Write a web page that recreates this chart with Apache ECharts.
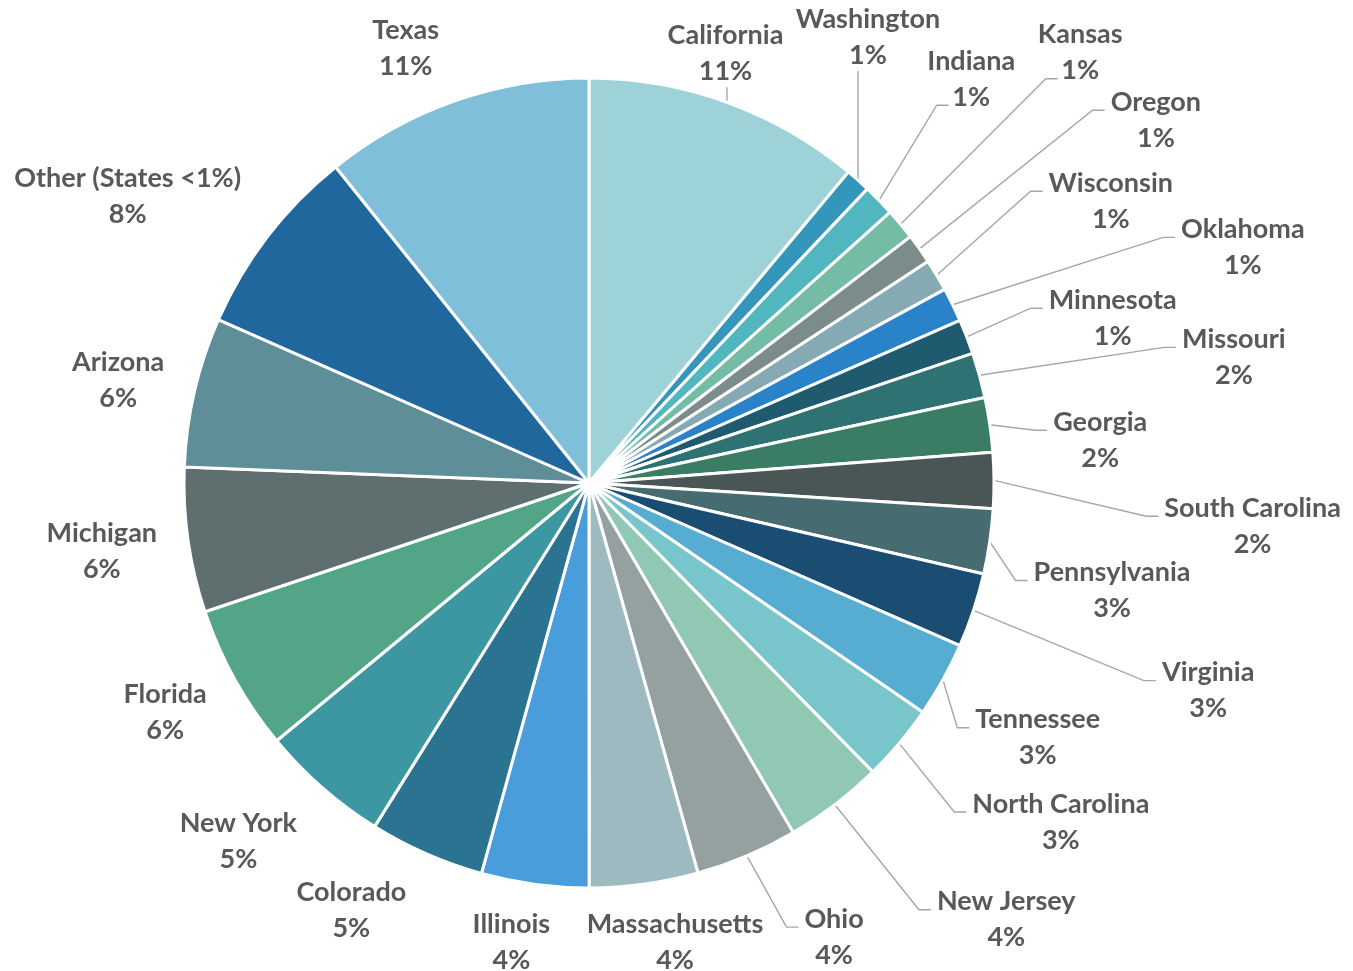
<!DOCTYPE html>
<html>
<head>
<meta charset="utf-8">
<script src="https://cdn.jsdelivr.net/npm/echarts@6/dist/echarts.min.js"></script>
<style>
  html, body { margin: 0; padding: 0; background: #fff; }
  #main { width: 1353px; height: 971px; }
</style>
</head>
<body>
<div id="main"></div>
<script>
// slices clockwise from 12 o'clock
var states = ['California', 'Washington', 'Indiana', 'Kansas', 'Oregon', 'Wisconsin', 'Oklahoma',
  'Minnesota', 'Missouri', 'Georgia', 'South Carolina', 'Pennsylvania', 'Virginia', 'Tennessee',
  'North Carolina', 'New Jersey', 'Ohio', 'Massachusetts', 'Illinois', 'Colorado', 'New York',
  'Florida', 'Michigan', 'Arizona', 'Other (States <1%)', 'Texas'];
var shares = [11.06, 1.0, 1.28, 1.25, 1.19, 1.28, 1.36,
  1.39, 1.8, 2.17, 2.22, 2.6, 2.97, 3.0,
  3.06, 3.94, 4.08, 4.33, 4.28, 4.6, 5.14,
  5.83, 5.78, 5.97, 7.64, 10.75];
var colors = ['#9dd3d8', '#3596bc', '#52b6c0', '#74bca5', '#7c8c8b', '#86aab3', '#2a82c8',
  '#1f5a6f', '#2e7273', '#3b7d64', '#4a5556', '#466b71', '#1b4c72', '#56add1',
  '#78c5cb', '#90c8b4', '#95a1a0', '#9dbac1', '#4a9ddb', '#2b7491', '#3c97a2',
  '#52a587', '#5f6e6f', '#5e8f99', '#20679e', '#7fbfd9'];
// label placement: distance of the label centre from the pie centre, and angle nudge (deg)
var labelDist = [451, 526, 556, 653, 673, 593, 695, 549, 657, 513, 665, 534, 653, 516,
  581, 604, 516, 467, 466, 489, 501, 482, 492, 482, 543, 472];
var labelShift = [-2.3, -9.6, -2.3, -1.5, 2.7, 2.5, 6.3, 3.7, 4.4, 3.5, 4.1, 3.3, 0.2, 0.5,
  -4.3, -6.3, -5.4, -2.8, 1.9, 5.4, 3.2, 0.6, 0.1, -0.7, -5.7, -3.5];
var noLeader = ['Massachusetts', 'Illinois', 'Colorado', 'New York', 'Florida', 'Michigan',
  'Arizona', 'Other (States <1%)', 'Texas'];

var CX = 589, CY = 483, R = 405, FS = 27;

var total = shares.reduce(function (a, b) { return a + b; }, 0);
var acc = 0;
var mids = shares.map(function (v) {
  var m = (acc + v / 2) / total * 360;
  acc += v;
  return m;
});

function pctText(v) { return Math.round(v / total * 100) + '%'; }

var chart = echarts.init(document.getElementById('main'));

var data = states.map(function (s, i) {
  return {
    name: s,
    value: shares[i],
    itemStyle: { color: colors[i] },
    labelLine: { show: noLeader.indexOf(s) < 0 }
  };
});

chart.setOption({
  backgroundColor: '#fff',
  animation: false,
  series: [{
    type: 'pie',
    center: [CX, CY],
    radius: [0, R],
    startAngle: 90,
    clockwise: true,
    avoidLabelOverlap: false,
    data: data,
    itemStyle: { borderColor: '#fff', borderWidth: 3 },
    label: {
      show: true,
      position: 'outside',
      formatter: function (p) { return p.name + '\n' + pctText(p.value); },
      color: '#595959',
      fontFamily: 'Lato, "Open Sans", sans-serif',
      fontWeight: 'bold',
      fontSize: FS,
      lineHeight: 36
    },
    labelLine: {
      show: true,
      lineStyle: { color: '#a6a6a6', width: 1.4 }
    },
    labelLayout: function (params) {
      var i = params.dataIndex;
      var a = (mids[i] + labelShift[i]) * Math.PI / 180;
      var cx = CX + labelDist[i] * Math.sin(a);
      var cy = CY - labelDist[i] * Math.cos(a);
      var w = params.labelRect.width, h = params.labelRect.height;
      var ea = mids[i] * Math.PI / 180;
      var ex = CX + R * Math.sin(ea), ey = CY - R * Math.cos(ea);
      var pts, ax, ay;
      if (cy + h / 2 < ey && ex > cx - w / 2 && ex < cx + w / 2) {
        // straight up into the label bottom
        pts = [[ex, ey], [ex, cy + h / 2 - 2], [ex, cy + h / 2 - 2]];
      } else if (cx > ex) {
        var vgap = ey - (cy + h / 2), hgap = (cx - w / 2) - ex;
        if (vgap / hgap > 0.8) {
          // steep leader: meet the percentage line
          var pw = pctText(shares[i]).length * 0.65 * FS;
          ax = cx - pw / 2 - 5;
          ay = cy + 26;
        } else {
          ax = cx - w / 2 - 6;
          ay = cy - 10;
        }
        pts = [[ex, ey], [ax - 12, ay], [ax, ay]];
      } else {
        ax = cx + w / 2 + 6;
        ay = cy - 10;
        pts = [[ex, ey], [ax + 12, ay], [ax, ay]];
      }
      return {
        x: cx,
        y: cy,
        align: 'center',
        verticalAlign: 'middle',
        labelLinePoints: pts
      };
    }
  }]
});
</script>
</body>
</html>
